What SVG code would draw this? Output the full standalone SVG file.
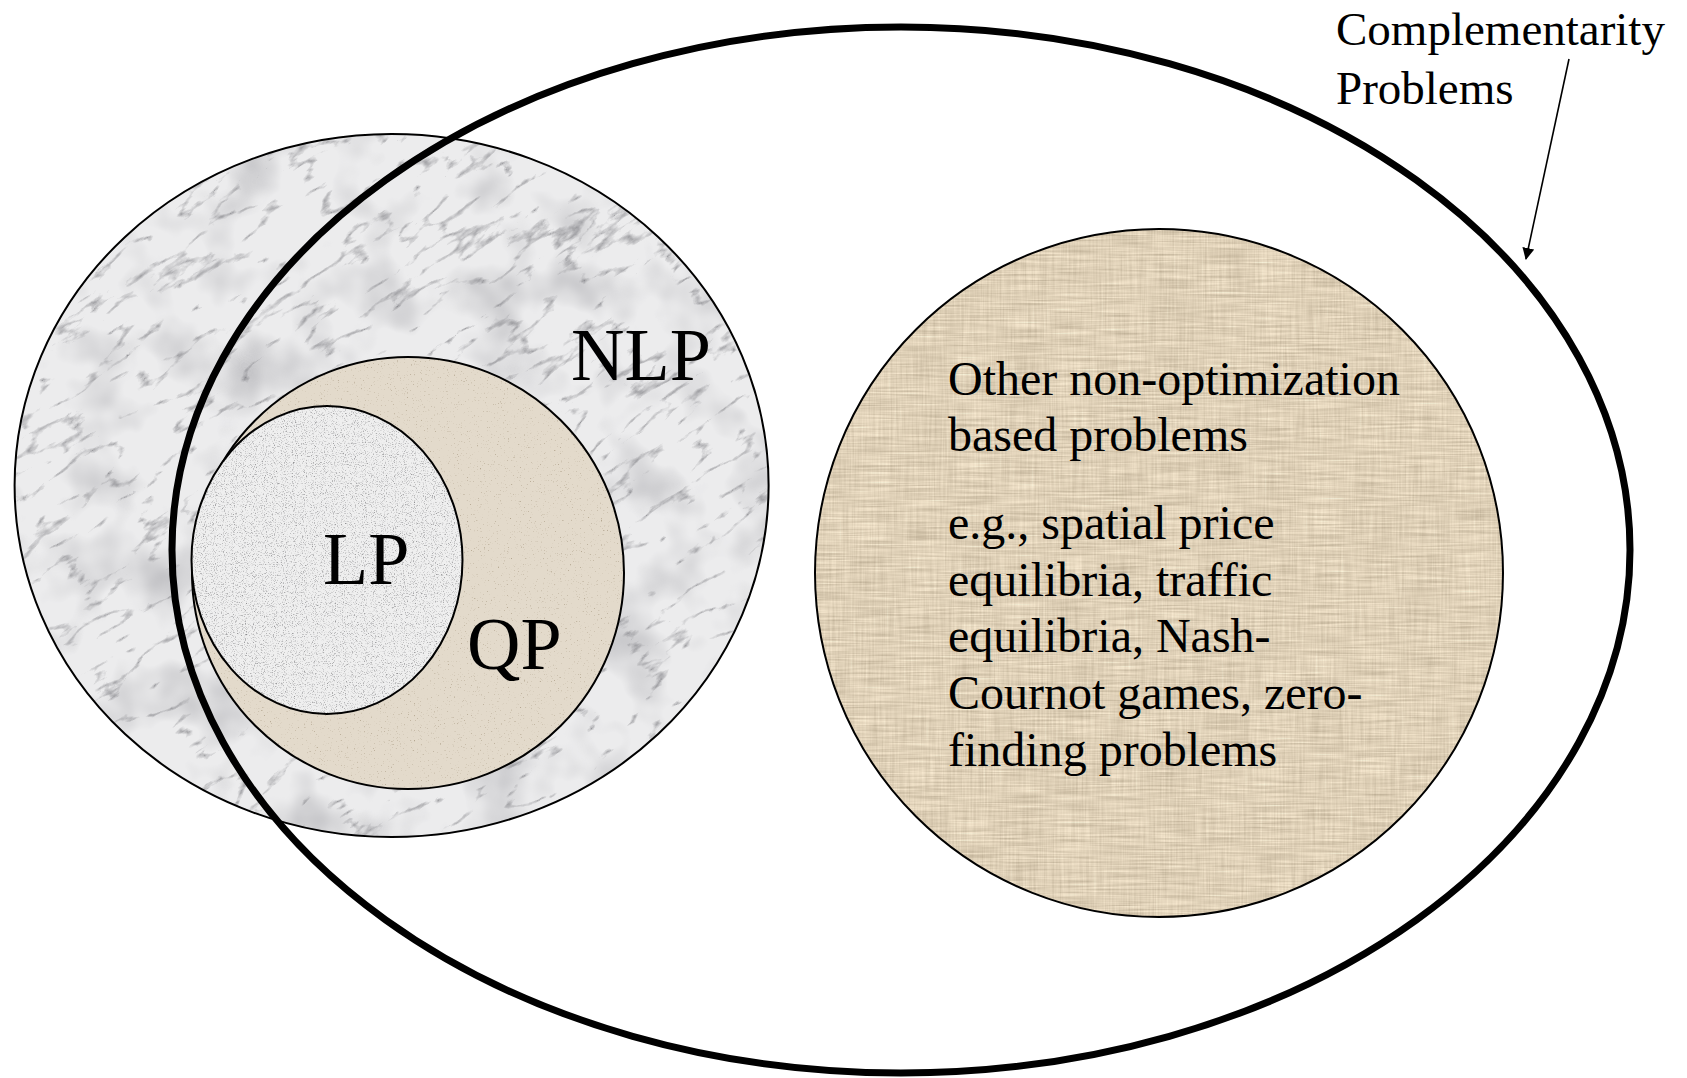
<svg xmlns="http://www.w3.org/2000/svg" width="1687" height="1078" viewBox="0 0 1687 1078">
<style>
  .lbl { font-family: "Liberation Serif", "Times New Roman", serif; fill: #000; }
  .big { font-size: 74px; }
  .body { font-size: 48px; }
  .edge { fill: none; stroke: #000; stroke-width: 2; }
</style>
<defs>
  <clipPath id="cNLP"><ellipse cx="391.6" cy="485.5" rx="377" ry="351.5"/></clipPath>
  <clipPath id="cQP"><circle cx="408" cy="573" r="216"/></clipPath>
  <clipPath id="cLP"><ellipse cx="327" cy="560" rx="135.5" ry="154"/></clipPath>
  <clipPath id="cOther"><circle cx="1159" cy="573" r="344"/></clipPath>
  <filter id="fVeins" x="0" y="0" width="1" height="1" color-interpolation-filters="sRGB">
    <feTurbulence type="turbulence" baseFrequency="0.012 0.035" numOctaves="5" seed="7"/>
    <feColorMatrix type="matrix" values="0 0 0 0 0.45  0 0 0 0 0.45  0 0 0 0 0.47  -4 0 0 0 0.7"/>
  </filter>
  <filter id="fCloud" x="0" y="0" width="1" height="1" color-interpolation-filters="sRGB">
    <feTurbulence type="fractalNoise" baseFrequency="0.015" numOctaves="3" seed="3"/>
    <feColorMatrix type="matrix" values="0 0 0 0 0.62  0 0 0 0 0.62  0 0 0 0 0.64  -1.2 0 0 0 0.62"/>
  </filter>
  <filter id="fSpeck" x="0" y="0" width="1" height="1" color-interpolation-filters="sRGB">
    <feTurbulence type="fractalNoise" baseFrequency="0.9" numOctaves="2" seed="2"/>
    <feColorMatrix type="matrix" values="0 0 0 0 0.55  0 0 0 0 0.55  0 0 0 0 0.56  -2.6 0 0 0 1.22"/>
  </filter>
  <filter id="fSand" x="0" y="0" width="1" height="1" color-interpolation-filters="sRGB">
    <feTurbulence type="fractalNoise" baseFrequency="0.7" numOctaves="2" seed="5"/>
    <feColorMatrix type="matrix" values="0 0 0 0 0.62  0 0 0 0 0.56  0 0 0 0 0.46  -3 0 0 0 1.0"/>
  </filter>
  <filter id="fLinenV" x="0" y="0" width="1" height="1" color-interpolation-filters="sRGB">
    <feTurbulence type="fractalNoise" baseFrequency="0.55 0.02" numOctaves="2" seed="11"/>
    <feColorMatrix type="matrix" values="0.5 0 0 0 0.63  0.5 0 0 0 0.57  0.5 0 0 0 0.47  0 0 0 0 0.5"/>
  </filter>
  <filter id="fLinenH" x="0" y="0" width="1" height="1" color-interpolation-filters="sRGB">
    <feTurbulence type="fractalNoise" baseFrequency="0.02 0.55" numOctaves="2" seed="13"/>
    <feColorMatrix type="matrix" values="0.5 0 0 0 0.63  0.5 0 0 0 0.57  0.5 0 0 0 0.47  0 0 0 0 0.5"/>
  </filter>
  <marker id="arr" viewBox="0 0 12 12" refX="11" refY="6" markerWidth="12" markerHeight="12" markerUnits="userSpaceOnUse" orient="auto">
    <path d="M0,0 L12,6 L0,12 z" fill="#000"/>
  </marker>
</defs>
<rect width="1687" height="1078" fill="#fff"/>

<g id="node-nlp">
  <g clip-path="url(#cNLP)">
    <ellipse cx="391.6" cy="485.5" rx="377" ry="351.5" fill="#ececed"/>
    <rect x="0" y="120" width="780" height="730" filter="url(#fCloud)"/>
    <g transform="rotate(-35 391 485)">
      <rect x="-120" y="20" width="1020" height="930" filter="url(#fVeins)"/>
    </g>
  </g>
  <ellipse class="edge" cx="391.6" cy="485.5" rx="377" ry="351.5"/>
  <text class="lbl big" x="571" y="380">NLP</text>
</g>

<g id="node-qp">
  <g clip-path="url(#cQP)">
    <circle cx="408" cy="573" r="216" fill="#e3dacb"/>
    <rect x="190" y="355" width="436" height="436" filter="url(#fSand)"/>
  </g>
  <circle class="edge" cx="408" cy="573" r="216"/>
  <text class="lbl big" x="467" y="669">QP</text>
</g>

<g id="node-lp">
  <g clip-path="url(#cLP)">
    <ellipse cx="327" cy="560" rx="135.5" ry="154" fill="#efefef"/>
    <rect x="190" y="404" width="275" height="312" filter="url(#fSpeck)"/>
  </g>
  <ellipse class="edge" cx="327" cy="560" rx="135.5" ry="154"/>
  <text class="lbl big" x="323" y="584">LP</text>
</g>

<g id="node-other">
  <g clip-path="url(#cOther)">
    <circle cx="1159" cy="573" r="344" fill="#dacdb5"/>
    <rect x="814" y="228" width="690" height="690" filter="url(#fLinenV)"/>
    <rect x="814" y="228" width="690" height="690" filter="url(#fLinenH)"/>
  </g>
  <circle class="edge" cx="1159" cy="573" r="344"/>
  <text class="lbl body" x="948" y="395">Other non-optimization</text>
  <text class="lbl body" x="948" y="451">based problems</text>
  <text class="lbl body" x="948" y="539">e.g., spatial price</text>
  <text class="lbl body" x="948" y="596">equilibria, traffic</text>
  <text class="lbl body" x="948" y="652">equilibria, Nash-</text>
  <text class="lbl body" x="948" y="709">Cournot games, zero-</text>
  <text class="lbl body" x="948" y="766">finding problems</text>
</g>

<g id="node-complementarity">
  <ellipse cx="901" cy="550" rx="729" ry="523" fill="none" stroke="#000" stroke-width="7"/>
  <text class="lbl" font-size="47" x="1336" y="45">Complementarity</text>
  <text class="lbl" font-size="47" x="1336" y="104">Problems</text>
</g>

<g id="connectors">
  <line x1="1569" y1="59" x2="1526" y2="259" stroke="#000" stroke-width="1.6" marker-end="url(#arr)"/>
</g>
</svg>
